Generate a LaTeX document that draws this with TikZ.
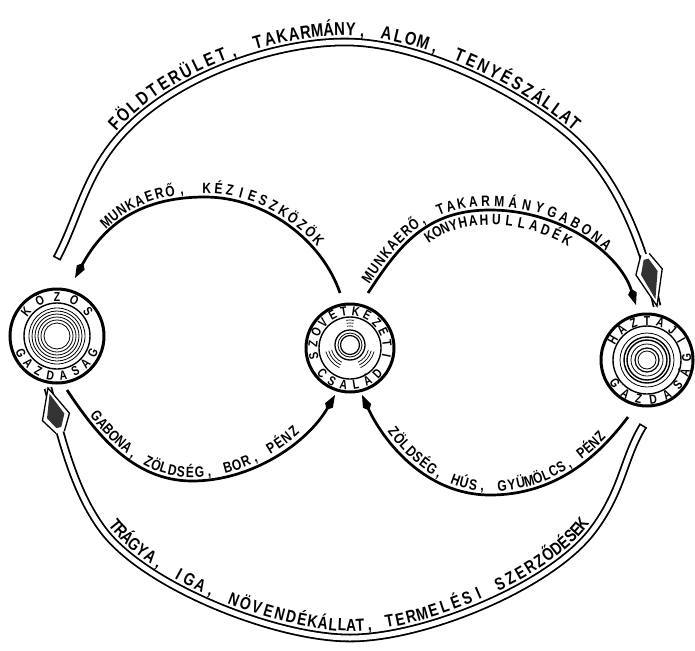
\documentclass[tikz,border=0pt]{standalone}
\usepackage{fontspec}
\setmainfont{Liberation Sans}
\newfontfamily\letfont{Liberation Sans}[FakeStretch=0.8]
\usetikzlibrary{arrows.meta}
\newcommand\bigfnt{\letfont\bfseries\fontsize{18.5pt}{21pt}\selectfont}
\newcommand\botfnt{\letfont\bfseries\fontsize{17.5pt}{20pt}\selectfont}
\newcommand\midfnt{\letfont\bfseries\fontsize{15pt}{17pt}\selectfont}
\newcommand\ringfnt{\letfont\bfseries\fontsize{13pt}{15pt}\selectfont}
\newsavebox\chbox
\newdimen\cumW
\newdimen\tmpW
% #1 prefix, #2 font, #3 chars, #4 segment A, #5 segment B, #6 start, #7 end (0..2), #8 node options
\newcommand\pathtext[8]{%
  \global\cumW=0pt
  \foreach \c in {#3} {\sbox\chbox{#2\c}\global\advance\cumW by \wd\chbox \global\advance\cumW by 1.5pt}%
  \global\advance\cumW by -1.5pt
  \pgfmathsetmacro\totW{\cumW}%
  \global\cumW=0pt
  \foreach \c [count=\k] in {#3} {%
    \sbox\chbox{#2\c}%
    \tmpW=\cumW \advance\tmpW by 0.5\wd\chbox
    \pgfmathsetmacro\uu{#6+(#7-#6)*\tmpW/\totW}%
    \global\advance\cumW by \wd\chbox \global\advance\cumW by 1.5pt
    \ifdim\uu pt<1pt
      \path #4 node[pos=\uu, sloped, #8] (#1\k) {#2\c};
    \else
      \pgfmathsetmacro\uu{\uu-1}%
      \path #5 node[pos=\uu, sloped, #8] (#1\k) {#2\c};
    \fi}}
\newcommand\topword[7]{%
  \foreach \ch [count=\i from 0] in {#7} {%
    \pgfmathsetmacro\angA{#5-#6*\i}%
    \node[ringtxt, rotate=\angA-90] (#1\i) at ({#2+#4*cos(\angA)},{#3-#4*sin(\angA)}) {\ch};}}
\newcommand\botword[7]{%
  \foreach \ch [count=\i from 0] in {#7} {%
    \pgfmathsetmacro\angA{#5+#6*\i}%
    \node[ringtxt, rotate=\angA+90] (#1\i) at ({#2+#4*cos(\angA)},{#3-#4*sin(\angA)}) {\ch};}}
\newcommand\tipTop{%
  \fill[white] (0,0) -- (-35,13.5) -- (-53,4.3) -- (-53,-4.3) -- (-35,-13.5) -- cycle;
  \draw[black, line width=1.3pt, line join=miter] (-53,4.3) -- (-35,13.5) -- (0,0) -- (-35,-13.5) -- (-53,-4.3);
  \fill[black!80] (-7,0) -- (-34,8.5) -- (-48,2.5) -- (-48,-2.5) -- (-34,-8.5) -- cycle;}
\newcommand\tipBot{%
  \fill[white] (0,0) -- (-30,14) -- (-46,4.3) -- (-46,-4.3) -- (-30,-14) -- cycle;
  \draw[black, line width=1.3pt, line join=miter] (-46,4.3) -- (-30,14) -- (0,0) -- (-30,-14) -- (-46,-4.3);
  \fill[black!80] (-6,0) -- (-29,9) -- (-41,2.5) -- (-41,-2.5) -- (-29,-9) -- cycle;}
\newcommand\tubeCap{\draw[black, line width=1.5pt] (0,-4.3) -- (0,4.3);}
\begin{document}
\begin{tikzpicture}[x=1pt,y=-1pt,
  bigcirc/.style={circle, draw, line width=3pt, minimum size=#1, inner sep=0pt},
  ringtxt/.style={font=\ringfnt, inner sep=0pt, text height=9.3pt, text depth=0pt},
  tube/.style={draw=white, line width=5pt, preaction={draw=black, line width=8.6pt}},
  thinarc/.style={draw=black, line width=2.7pt},
  spear/.style={-{Kite[length=17pt,width=9pt,inset=5pt]}},
  abovetxt/.style={anchor=south, inner xsep=0pt, inner ysep=#1, text depth=0pt},
  belowtxt/.style={anchor=north, inner xsep=0pt, inner ysep=#1, text height=10.8pt}
]
\fill[white] (0,0) rectangle (695,650);
\useasboundingbox (0,0) rectangle (695,650);

% ---------- circles ----------
\node[bigcirc=94pt] (L) at (57,336) {};
\draw[line width=1.4pt] (L) circle[radius=33pt];
\foreach \r in {28,25,22,19,16,13} \draw[line width=0.8pt] (L) circle[radius=\r pt];

\node[bigcirc=88pt] (M) at (350,348) {};
\draw[line width=1.4pt] (M) circle[radius=31pt];
\draw[line width=1.3pt] (350,345) circle[radius=15pt];
\draw[line width=0.8pt] (350,345) circle[radius=12pt];
\draw[line width=1.2pt] (350,345) circle[radius=9.5pt];
\foreach \r in {19,22,25} {
  \draw[line width=0.7pt] (350,345) ++(195:\r pt) arc[start angle=195, end angle=245, radius=\r pt];
  \draw[line width=0.7pt] (350,345) ++(295:\r pt) arc[start angle=295, end angle=345, radius=\r pt];}
\foreach \r in {22,25,28}
  \draw[line width=0.7pt] (350,348) ++(82:\r pt) arc[start angle=82, end angle=98, radius=\r pt];

\node[bigcirc=92pt] (R) at (647,360) {};
\draw[line width=1.4pt] (R) circle[radius=34pt];
\draw[line width=0.8pt] (R) circle[radius=27pt];
\draw[line width=1.4pt] (R) circle[radius=23pt];
\draw[line width=1.4pt] (R) circle[radius=20pt];
\draw[line width=0.8pt] (R) circle[radius=16pt];
\draw[line width=1.2pt] (R) circle[radius=12pt];
\draw[line width=0.8pt] (R) circle[radius=9pt];

% ---------- ring texts ----------
\topword{Lt}{57}{336}{39.6}{142}{26}{K,Ö,Z,Ö,S}
\botword{Lb}{57}{336}{39.6}{205}{18.5}{G,A,Z,D,A,S,Á,G}
\topword{Mt}{350}{348}{37.3}{192}{18.5}{S,Z,Ö,V,E,T,K,E,Z,E,T,I}
\botword{Mb}{350}{348}{37.3}{222}{19}{C,S,A,L,Á,D}
\topword{Rt}{647}{360}{39.6}{150}{20}{H,Á,Z,T,Á,J,I}
\botword{Rb}{647}{360}{39.6}{216}{21}{G,A,Z,D,A,S,Á,G}

% ---------- big hollow arcs ----------
\coordinate (tS) at (57,258);
\coordinate (tE) at (657,306);
\draw[tube] (tS) .. controls (78.7,216.7) and (85.3,174) .. (122,134)
  .. controls (176,75) and (275,42) .. (345,42)
  .. controls (419.3,42) and (516,90) .. (568,134)
  .. controls (620,178) and (643.7,248.7) .. (tE);
\begin{scope}[shift={(tS)}, rotate=62.3] \tubeCap \end{scope}
\begin{scope}[shift={(tE)}, rotate=-76.9] \tipTop \end{scope}

\coordinate (bS) at (643,426);
\coordinate (bE) at (48,388);
\draw[tube] (bS) .. controls (623,459) and (623,490) .. (593,530)
  .. controls (551,586) and (425,638) .. (350,638)
  .. controls (275,638) and (145,586) .. (103,530)
  .. controls (73,490) and (61.3,436.3) .. (bE);
\begin{scope}[shift={(bS)}, rotate=-121.2] \tubeCap \end{scope}
\begin{scope}[shift={(bE)}, rotate=105.4] \tipBot \end{scope}

% ---------- thin arcs ----------
\coordinate (kS) at (340,293); \coordinate (kE) at (75,278);
\draw[thinarc, spear] (kS) .. controls (322,240) and (265,197) .. (205,197)
  .. controls (135,197) and (101.4,229.6) .. (kE);
\coordinate (tkS) at (368,293); \coordinate (tkE) at (636,305);
\draw[thinarc, spear] (tkS) .. controls (398,247.4) and (425,210) .. (490,210)
  .. controls (560,210) and (619.5,252.75) .. (tkE);
\coordinate (gS) at (67,390); \coordinate (gE) at (335,395);
\draw[thinarc, spear] (gS) .. controls (94.5,431.5) and (132,481) .. (192,481)
  .. controls (252,481) and (307.5,442.9) .. (gE);
\coordinate (zS) at (628,417); \coordinate (zE) at (362,395);
\draw[thinarc, spear] (zS) .. controls (598,457) and (555,495) .. (490,495)
  .. controls (425,495) and (383,440.5) .. (zE);

% ---------- labels ----------
\pathtext{ta}{\bigfnt}{F,Ö,L,D,T,E,R,Ü,L,E,T,{,},~,T,A,K,A,R,M,Á,N,Y,{,},~,A,L,O,M,{,},~,T,E,N,Y,É,S,Z,Á,L,L,A,T}
  {(122,134) .. controls (176,75) and (275,42) .. (345,42)}
  {(345,42) .. controls (419.3,42) and (516,90) .. (568,134)}{0.01}{1.99}{abovetxt=6pt}
\pathtext{ba}{\botfnt}{T,R,Á,G,Y,A,{,},~,I,G,A,{,},~,N,Ö,V,E,N,D,É,K,Á,L,L,A,T,{,},~,T,E,R,M,E,L,É,S,I,~,S,Z,E,R,Z,Ő,D,É,S,E,K}
  {(103,530) .. controls (145,586) and (275,638) .. (350,638)}
  {(350,638) .. controls (425,638) and (551,586) .. (593,530)}{0.02}{1.99}{abovetxt=6.5pt}
\pathtext{ka}{\midfnt}{M,U,N,K,A,E,R,Ő,{,},~,K,É,Z,I,E,S,Z,K,Ö,Z,Ö,K}
  {(75,278) .. controls (101.4,229.6) and (135,197) .. (205,197)}
  {(205,197) .. controls (265,197) and (322,240) .. (340,293)}{0.4}{1.68}{abovetxt=3.5pt}
\pathtext{tk}{\midfnt}{M,U,N,K,A,E,R,Ő,{,},~,T,A,K,A,R,M,Á,N,Y,G,A,B,O,N,A}
  {(368,293) .. controls (398,247.4) and (425,210) .. (490,210)}
  {(490,210) .. controls (560,210) and (619.5,252.75) .. (636,305)}{0.08}{1.62}{abovetxt=3.5pt}
\pathtext{kh}{\midfnt}{K,O,N,Y,H,A,H,U,L,L,A,D,É,K}
  {(368,293) .. controls (398,247.4) and (425,210) .. (490,210)}
  {(490,210) .. controls (560,210) and (619.5,252.75) .. (636,305)}{0.57}{1.43}{belowtxt=4pt}
\pathtext{gz}{\midfnt}{G,A,B,O,N,A,{,},~,Z,Ö,L,D,S,É,G,{,},~,B,O,R,{,},~,P,É,N,Z}
  {(67,390) .. controls (94.5,431.5) and (132,481) .. (192,481)}
  {(192,481) .. controls (252,481) and (307.5,442.9) .. (335,395)}{0.25}{1.67}{abovetxt=3.5pt}
\pathtext{zh}{\midfnt}{Z,Ö,L,D,S,É,G,{,},~,H,Ú,S,{,},~,G,Y,Ü,M,Ö,L,C,S,{,},~,P,É,N,Z}
  {(362,395) .. controls (383,440.5) and (425,495) .. (490,495)}
  {(490,495) .. controls (555,495) and (598,457) .. (628,417)}{0.3}{1.78}{abovetxt=3.5pt}
\end{tikzpicture}
\end{document}
